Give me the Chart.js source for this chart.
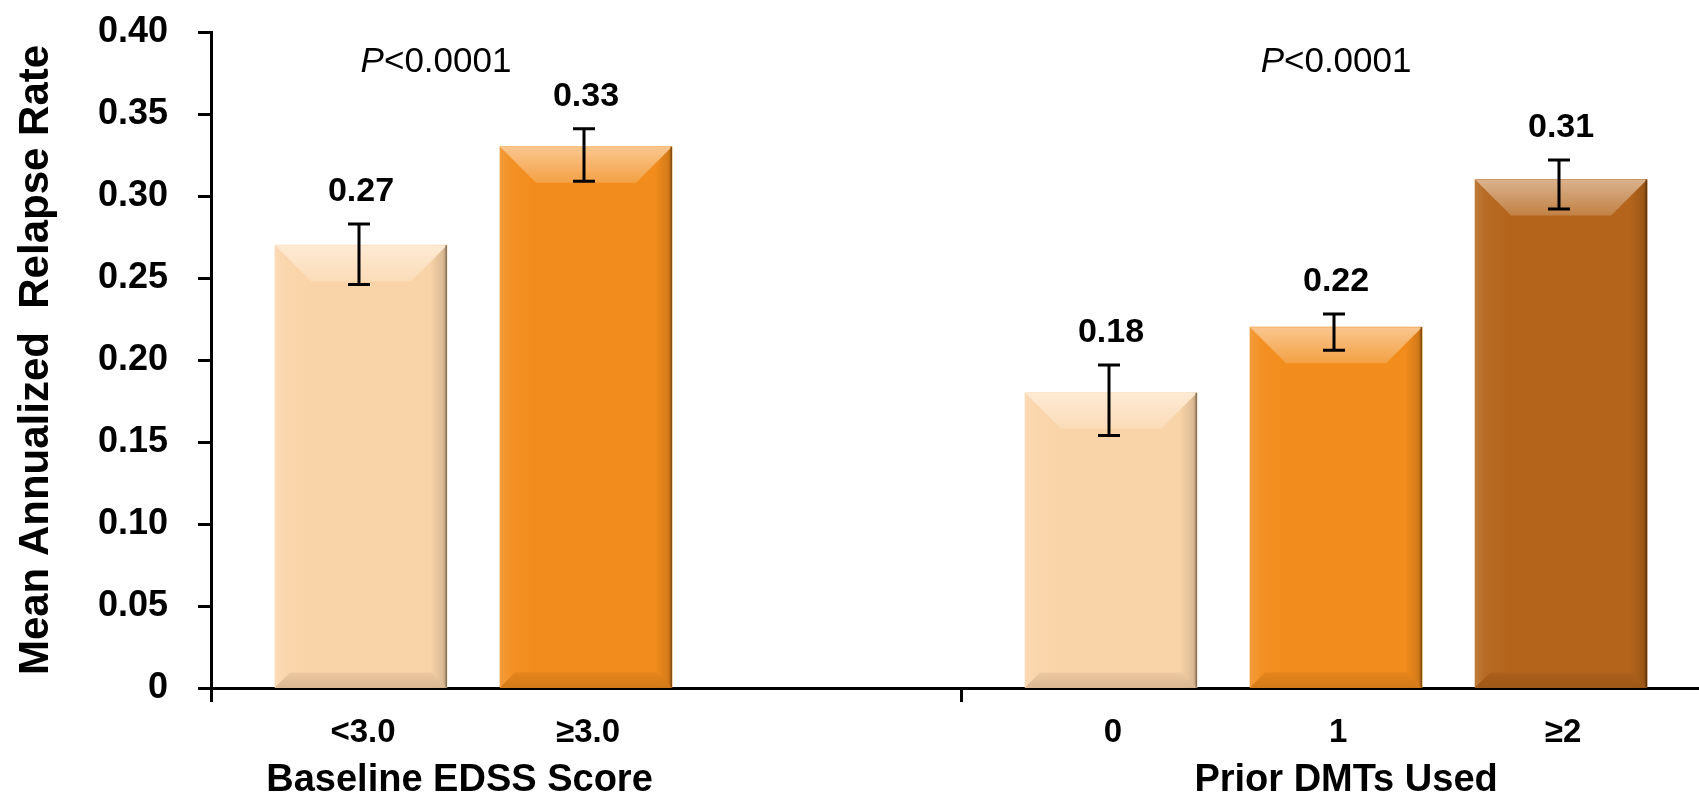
<!DOCTYPE html>
<html>
<head>
<meta charset="utf-8">
<title>Mean Annualized Relapse Rate</title>
<script src="https://cdn.jsdelivr.net/npm/chart.js@4.4.1/dist/chart.umd.min.js"></script>
<style>
  html, body { margin: 0; padding: 0; background: #ffffff; }
  #wrap { width: 1699px; height: 804px; position: relative; }
</style>
</head>
<body>
<div id="wrap"><canvas id="chart" width="1699" height="804"></canvas></div>
<script>
// ---- data ----
const groupNames = ['Baseline EDSS Score', 'Prior DMTs Used'];
const groupSizes = [2, 3];
const categories = ['<3.0', '\u22653.0', '0', '1', '\u22652'];
const meanRates = [0.27, 0.33, 0.18, 0.22, 0.31];
const ciLower = [0.246, 0.309, 0.154, 0.206, 0.292];
const ciUpper = [0.283, 0.341, 0.197, 0.228, 0.322];
const pValueText = ['<0.0001', '<0.0001'];
const yTickStep = 0.05;
const yMax = 0.40;

// ---- look ----
const barColors = ['#FAD4A9', '#F28C1C', '#FAD4A9', '#F28C1C', '#B4651B'];
const FONT = "'Liberation Sans', Arial, Helvetica, sans-serif";

// layout of the category axis, in bar-step units
const LEAD = 2 / 3;        // space before the first bar
const GROUP_GAP = 7 / 3;   // distance from last bar of a group to first of the next
const DIVIDER = 10 / 3;    // tick separating the two groups
const X_MAX = 6.613;
const pLabelAt = [1.0, 5.0];
const groupLabelShift = [-14, 10];   // px nudge of the group titles

const xPos = [];
(function () {
  let cursor = LEAD;
  groupSizes.forEach(n => {
    for (let j = 0; j < n; j++) xPos.push(cursor + j);
    cursor += (n - 1) + GROUP_GAP;
  });
})();

function shade(hex, amt) {
  const n = parseInt(hex.slice(1), 16);
  let r = n >> 16, g = (n >> 8) & 255, b = n & 255;
  const t = amt < 0 ? 0 : 255, p = Math.abs(amt);
  r = Math.round(r + (t - r) * p);
  g = Math.round(g + (t - g) * p);
  b = Math.round(b + (t - b) * p);
  return `rgb(${r},${g},${b})`;
}

// bevelled column face: lit top facet, darker foot facet, shaded sides
function drawBevel(ctx, x0, x1, top, base, c) {
  const w = x1 - x0, h = base - top;
  const d = Math.min(36, h / 2), b = Math.min(15, h / 4);
  ctx.save();
  let g = ctx.createLinearGradient(x0, 0, x1, 0);
  g.addColorStop(0, shade(c, 0.14));
  g.addColorStop(0.06, shade(c, 0.04));
  g.addColorStop(0.2, c);
  g.addColorStop(0.9, c);
  g.addColorStop(0.975, shade(c, -0.12));
  g.addColorStop(1, shade(c, -0.3));
  ctx.fillStyle = g;
  ctx.fillRect(x0, top, w, h);

  g = ctx.createLinearGradient(0, top, 0, top + d);
  g.addColorStop(0, shade(c, 0.5));
  g.addColorStop(1, shade(c, 0.18));
  ctx.fillStyle = g;
  ctx.beginPath();
  ctx.moveTo(x0, top); ctx.lineTo(x1, top);
  ctx.lineTo(x1 - d, top + d); ctx.lineTo(x0 + d, top + d);
  ctx.closePath(); ctx.fill();

  g = ctx.createLinearGradient(0, base - b, 0, base);
  g.addColorStop(0, shade(c, -0.05));
  g.addColorStop(1, shade(c, -0.13));
  ctx.fillStyle = g;
  ctx.beginPath();
  ctx.moveTo(x0, base); ctx.lineTo(x1, base);
  ctx.lineTo(x1 - b, base - b); ctx.lineTo(x0 + b, base - b);
  ctx.closePath(); ctx.fill();

  ctx.fillStyle = shade(c, -0.45);
  ctx.fillRect(x1 - 1.5, top, 1.5, h);
  ctx.restore();
}

const decor = {
  id: 'decor',
  afterDatasetsDraw(chart) {
    const ctx = chart.ctx;
    const ys = chart.scales.y;
    const meta = chart.getDatasetMeta(0);
    meta.data.forEach((bar, i) => {
      const p = bar.getProps(['x', 'y', 'base', 'width'], true);
      drawBevel(ctx, p.x - p.width / 2, p.x + p.width / 2, p.y, p.base, barColors[i]);
    });
    // error bars
    ctx.save();
    ctx.strokeStyle = '#000';
    ctx.lineWidth = 3;
    meta.data.forEach((bar, i) => {
      const cx = Math.round(bar.x) - 2;
      const yHi = ys.getPixelForValue(ciUpper[i]);
      const yLo = ys.getPixelForValue(ciLower[i]);
      ctx.beginPath();
      ctx.moveTo(cx, yHi); ctx.lineTo(cx, yLo);
      ctx.moveTo(cx - 11, yHi); ctx.lineTo(cx + 11, yHi);
      ctx.moveTo(cx - 11, yLo); ctx.lineTo(cx + 11, yLo);
      ctx.stroke();
    });
    ctx.restore();
  },
  afterDraw(chart) {
    const ctx = chart.ctx;
    const xs = chart.scales.x, ys = chart.scales.y;
    const meta = chart.getDatasetMeta(0);
    ctx.save();
    ctx.fillStyle = '#000';
    ctx.textAlign = 'center';
    ctx.textBaseline = 'middle';

    // value labels above the error bars
    ctx.font = `bold 34px ${FONT}`;
    meta.data.forEach((bar, i) => {
      const y = ys.getPixelForValue(ciUpper[i]) - 32;
      ctx.fillText(meanRates[i].toFixed(2), bar.x, y);
    });

    // category labels
    ctx.font = `bold 33px ${FONT}`;
    categories.forEach((c, i) => {
      ctx.fillText(c, xs.getPixelForValue(xPos[i]) + 2, 733);
    });

    // group titles, centred under their bars
    ctx.font = `bold 38px ${FONT}`;
    let k = 0;
    groupNames.forEach((name, g) => {
      const first = xPos[k], last = xPos[k + groupSizes[g] - 1];
      k += groupSizes[g];
      ctx.fillText(name, xs.getPixelForValue((first + last) / 2) + groupLabelShift[g], 781);
    });

    // P values
    pValueText.forEach((t, g) => {
      ctx.font = `italic 35px ${FONT}`;
      const wP = ctx.measureText('P').width;
      ctx.font = `35px ${FONT}`;
      const wT = ctx.measureText(t).width;
      const cx = xs.getPixelForValue(pLabelAt[g]);
      const x0 = cx - (wP + wT) / 2;
      ctx.textAlign = 'left';
      ctx.font = `italic 35px ${FONT}`;
      ctx.fillText('P', x0, 62);
      ctx.font = `35px ${FONT}`;
      ctx.fillText(t, x0 + wP, 62);
      ctx.textAlign = 'center';
    });
    ctx.restore();
  }
};

Chart.defaults.font.family = FONT;
Chart.defaults.color = '#000';

new Chart(document.getElementById('chart'), {
  type: 'bar',
  data: {
    datasets: [{
      data: meanRates.map((v, i) => ({ x: xPos[i], y: v })),
      backgroundColor: barColors,
      borderWidth: 0,
      barThickness: 172
    }]
  },
  options: {
    responsive: false,
    animation: false,
    layout: { padding: 0 },
    plugins: { legend: { display: false }, tooltip: { enabled: false } },
    scales: {
      x: {
        type: 'linear', min: 0, max: X_MAX, offset: false, z: 1,
        grid: { display: true, drawOnChartArea: false, drawTicks: true, tickLength: 14, tickWidth: 3, tickColor: '#000', offset: false },
        border: { display: true, color: '#000', width: 3 },
        ticks: { callback: () => '', autoSkip: false, maxRotation: 0 },
        afterBuildTicks: s => { s.ticks = [{ value: 0 }, { value: DIVIDER }]; },
        afterFit: s => { s.height = 116; s.paddingLeft = 0; s.paddingRight = 0; }
      },
      y: {
        min: 0, max: yMax, z: 1,
        ticks: {
          stepSize: yTickStep, padding: 30,
          font: { size: 36, weight: 'bold' },
          callback: v => (v === 0 ? '0' : Number(v).toFixed(2))
        },
        grid: { drawOnChartArea: false, drawTicks: true, tickLength: 13, tickWidth: 3, tickColor: '#000' },
        border: { display: true, color: '#000', width: 3 },
        title: {
          display: true, text: 'Mean Annualized  Relapse Rate',
          font: { size: 42, weight: 'bold' }, padding: { top: 11, bottom: 0 }
        },
        afterFit: s => { s.width = 211; s.paddingTop = 32; s.paddingBottom = 20; }
      }
    }
  },
  plugins: [decor]
});
</script>
</body>
</html>
